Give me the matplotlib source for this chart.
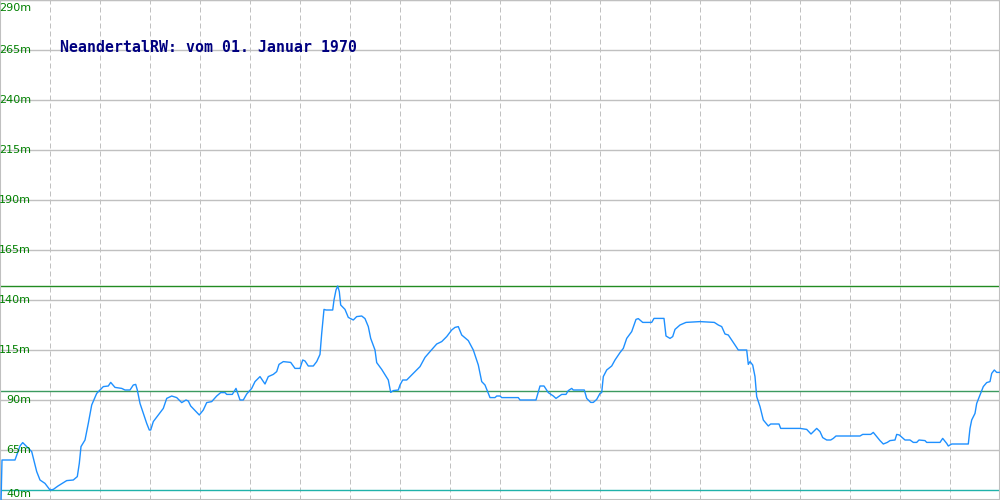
# plot.py
# Elevation profile chart, redrawn from a reference picture

import matplotlib
matplotlib.use("Agg")
import matplotlib.pyplot as plt

# Position along the route (0..1000) and elevation in metres
dist = [
    1, 2, 15, 20, 22.7, 31.7, 36.7, 40, 45, 50, 53.3, 58, 66.7, 73.3, 77.3,
    79.3, 81, 85, 88.3, 91.7, 96.7, 103.3, 108.3, 110.7, 115, 121.7, 125, 130,
    133.3, 135.7, 137.3, 140, 143.3, 146.7, 149.3, 150.7, 153.3, 158.3, 163.3,
    166.7, 171.7, 176.7, 181.7, 186, 188.3, 190.7, 199.3,
    203.3, 206.7, 211.7, 216.7, 220.7, 225, 226.7, 232.3, 236, 238.3, 240,
    243.3, 246.7, 251.7, 255, 260, 265, 268.3, 273.3, 276.7, 279, 283.3, 290.7,
    295, 300, 302.7, 305, 308.3, 313.3, 316.7, 320, 321.7, 324, 326, 332.7,
    334, 336, 337.7, 339.3, 340.7, 345, 348.3, 353.3, 356.7, 361.7, 365, 368.3,
    370.7, 375, 376.7, 381.7, 388.3, 390.7, 393.3, 398.3, 400,
    402.7, 406.7, 413.3, 420, 425, 430, 436.7, 441.7, 446.7, 451.7, 455, 458.3,
    461.7, 468.3, 473.3, 478.3, 481.7, 485, 490, 495, 496.7, 500, 501.7, 518.3,
    520, 536, 540, 544, 548.3, 553.3, 556, 561.7, 566, 568.3, 571.7, 573.3,
    584.3, 586.7, 590.7, 593.3, 596.7, 600,
    601.7, 603.3, 606.7, 611.7, 615, 620, 623.3, 626.7, 631.7, 636, 638.3,
    642.7, 651.7, 654, 664, 666, 670, 672.7, 675, 680, 686, 700, 714.3, 718.3,
    721.7, 725, 728.3, 731.7, 735, 738.3, 746.7, 748.3, 750, 752.7, 755, 756.7,
    760, 763.3, 768.3, 770.7, 779, 780.7, 800,
    806.7, 811, 816.7, 820, 822.7, 826.7, 830.7, 833.3, 836, 860, 862.7, 870.7,
    873.3, 880, 883.3, 887.3, 890, 895, 896.7, 899.3, 905, 910, 913.3, 916.7,
    919, 925, 926.7, 940, 942.7, 946.7, 948.3, 951.7, 968.3, 970, 971.7, 975,
    976.7, 980, 983.3, 986.7, 990, 991.7, 994.3, 996.7, 1000,
]
elev = [
    38, 60, 60, 67, 68.7, 64.2, 54.2, 50, 48.3, 45, 45.3, 47, 49.7, 50, 51.7,
    58.3, 66.7, 70, 78.3, 87.5, 93.3, 96.7, 97, 98.8, 96.3, 95.8, 95, 95,
    97.5, 97.8, 95, 88.3, 83.3, 78.3, 75, 75, 79.2, 82.5, 85.8,
    90.8, 92, 91.2, 88.7, 90, 89.5, 87, 82.5,
    85, 88.7, 89.2, 92, 93.7, 93.7, 92.8, 92.8, 95.8, 92.5, 90,
    90, 93, 95.8, 99.2, 101.7, 98, 101.7, 102.8, 104.2, 107.8, 109.2, 108.8,
    105.8, 105.8, 110, 109.5, 107, 107, 109.2, 112.8, 123.3, 135.3, 135, 135,
    140, 145, 147, 144.2, 137.5, 135.3, 131.3, 130, 131.7, 132, 130.7, 126.7,
    120.8, 115, 108.7, 105.3, 100, 93.8, 94.7, 95, 97.5,
    100, 100, 103.3, 106.7, 111.3, 114.2, 118, 119.2, 121.7, 125, 126.3, 126.7,
    122.5, 119.7, 115, 107.5, 99.2, 97.5, 91.2, 91.2, 92, 92, 91.2, 91.2,
    90, 90, 97, 97, 93.7, 92, 90.8, 92.8, 92.8, 94.7, 95.8, 95,
    95, 90.8, 88.8, 88.8, 90.3, 93.3,
    93.7, 101.7, 105, 107, 110, 113.7, 115.8, 120.8, 124.2, 130.3, 130.7,
    128.8, 128.8, 130.8, 130.8, 122, 120.8, 121.7, 125.3, 127.5, 128.8, 129.2, 128.8, 127.5,
    126.7, 123, 122.5, 120, 117.5, 115, 115, 107.8, 109.2, 107.5, 101.7, 91.7,
    86.7, 80, 77, 78, 78, 75.8, 75.8,
    75.3, 73, 75.8, 74.2, 71.2, 70, 70, 70.8, 72, 72, 72.8, 72.8,
    73.8, 69.7, 68, 68.8, 69.7, 70, 72.8, 72.5, 70, 70, 68.8, 68.8,
    70, 69.7, 68.8, 68.8, 70.8, 68.3, 67, 68, 68, 75.8, 80, 83.3,
    88.3, 92.5, 96.7, 98.7, 99.2, 103.3, 105, 103.8, 103.8,
]

# reference lines (min / mean / max) as drawn in the original
ref_min, ref_mean, ref_max = 45, 94.5, 147

y_ticks = [40, 65, 90, 115, 140, 165, 190, 215, 240, 265, 290]
title = "NeandertalRW: vom 01. Januar 1970"

grid_gray = "#c0c0c0"
label_green = "#008000"

fig = plt.figure(figsize=(10, 5), dpi=100)
ax = fig.add_axes([0, 0, 1, 1])
ax.set_xlim(0, 1000)
ax.set_ylim(40, 290)
ax.set_xticks([])
ax.set_yticks([])
for side in ax.spines.values():
    side.set_color(grid_gray)
    side.set_linewidth(1.5)

# grid: solid horizontal, dashed vertical
for v in y_ticks:
    ax.axhline(v, color=grid_gray, lw=1.0, zorder=1)
for x in range(50, 1000, 50):
    ax.axvline(x, color=grid_gray, lw=0.72, ls=(0, (5, 3)), zorder=1)

ax.axhline(ref_max, color="#228b22", lw=1.0, zorder=2)
ax.axhline(ref_mean, color="#3c9a5f", lw=1.0, zorder=2)
ax.axhline(ref_min, color="#20b2aa", lw=1.0, zorder=2)

ax.plot(dist, elev, color="#1e90ff", lw=1.0, zorder=3, clip_on=True)

# axis labels sit inside the plot
for v in y_ticks:
    yy = v
    if v == 290:
        yy = 286
    elif v == 40:
        yy = 43
    ax.text(31, yy, f"{v}m", color=label_green, fontsize=8, ha="right",
            va="center", family="DejaVu Sans", zorder=4)

ax.text(60, 266, title, color="#000080", fontsize=10.75, fontweight="bold",
        family="DejaVu Sans Mono", ha="left", va="center", zorder=4)

fig.savefig("out.png", dpi=100)
